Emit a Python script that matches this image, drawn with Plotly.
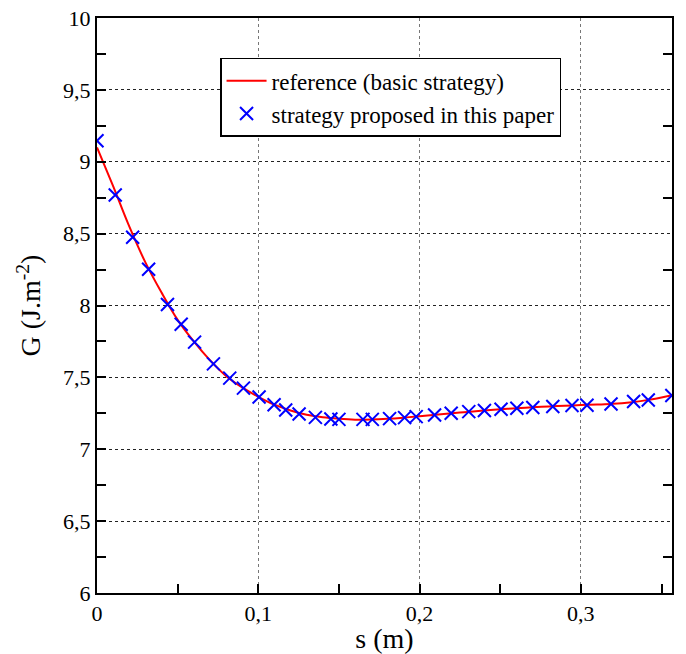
import plotly.graph_objects as go

# reference curve (basic strategy)
ref_s = [0, 0.01, 0.02, 0.03, 0.04, 0.05, 0.06, 0.07, 0.08, 0.09, 0.10, 0.11, 0.12,
         0.13, 0.14, 0.15, 0.16, 0.17, 0.18, 0.19, 0.20, 0.21, 0.22, 0.23, 0.24, 0.25,
         0.26, 0.27, 0.28, 0.29, 0.30, 0.31, 0.32, 0.33, 0.34, 0.35, 0.3565]
ref_G = [9.10, 8.83, 8.55, 8.30, 8.09, 7.90, 7.75, 7.62, 7.51, 7.43, 7.365, 7.31, 7.27,
         7.24, 7.222, 7.212, 7.206, 7.207, 7.212, 7.22, 7.23, 7.24, 7.25, 7.26, 7.27, 7.278,
         7.285, 7.292, 7.298, 7.303, 7.307, 7.311, 7.316, 7.325, 7.34, 7.36, 7.375]

# strategy proposed in this paper
new_s = [0.0, 0.0113, 0.0221, 0.032, 0.0437, 0.0522, 0.0605, 0.0722, 0.0823, 0.0908,
         0.1005, 0.1098, 0.117, 0.1253, 0.1354, 0.145, 0.1500, 0.1649, 0.1707, 0.1814,
         0.1907, 0.1979, 0.2093, 0.2196, 0.2305, 0.2402, 0.2505, 0.2603, 0.2702, 0.2826,
         0.2945, 0.3038, 0.3187, 0.3327, 0.3418, 0.3564]
new_G = [9.146, 8.769, 8.475, 8.252, 8.007, 7.870, 7.745, 7.594, 7.495, 7.425,
         7.363, 7.309, 7.273, 7.245, 7.222, 7.21, 7.208, 7.208, 7.208, 7.213,
         7.220, 7.227, 7.238, 7.25, 7.262, 7.269, 7.278, 7.285, 7.290, 7.297,
         7.304, 7.306, 7.315, 7.332, 7.343, 7.374]

x_tickvals = [0, 0.1, 0.2, 0.3]
x_ticktext = ["0", "0,1", "0,2", "0,3"]
y_tickvals = [6, 6.5, 7, 7.5, 8, 8.5, 9, 9.5, 10]
y_ticktext = ["6", "6,5", "7", "7,5", "8", "8,5", "9", "9,5", "10"]

X_RANGE = [0, 0.3565]
Y_RANGE = [6, 10]

font = "Liberation Serif, Times New Roman, serif"

fig = go.Figure()
fig.add_trace(go.Scatter(x=ref_s, y=ref_G, mode="lines", line=dict(color="#ff0000", width=2, shape="spline"),
                         name="reference (basic strategy)"))
fig.add_trace(go.Scatter(x=new_s, y=new_G, mode="markers",
                         marker=dict(symbol="x-thin", size=13, color="#0000ff",
                                     line=dict(color="#0000ff", width=2)),
                         name="strategy proposed in this paper"))

axis_common = dict(showline=True, linecolor="black", linewidth=2, mirror=True,
                   ticks="inside", ticklen=0, showgrid=True,
                   griddash="dot", gridwidth=1, zeroline=False, automargin=False,
                   ticklabeloverflow="allow",
                   tickfont=dict(family=font, size=22, color="black"))

mirror_common = dict(showline=False, showgrid=False, zeroline=False, showticklabels=False,
                     ticks="", automargin=False)

fig.update_layout(
    width=686, height=654,
    margin=dict(l=97, r=14, t=18, b=61),
    plot_bgcolor="white", paper_bgcolor="white",
    font=dict(family=font, color="black"),
    xaxis=dict(range=X_RANGE, tickvals=x_tickvals, ticktext=x_ticktext, gridcolor="#777",
               minor=dict(dtick=0.05, tick0=0, ticks="inside", ticklen=9, tickcolor="black",
                          tickwidth=1.5, showgrid=False),
               title=dict(text="s (m)", font=dict(family=font, size=28), standoff=4),
               **axis_common),
    yaxis=dict(range=Y_RANGE, tickvals=y_tickvals, ticktext=y_ticktext, gridcolor="#222",
               minor=dict(dtick=0.25, tick0=6, ticks="inside", ticklen=9, tickcolor="black",
                          tickwidth=1.5, showgrid=False),
               title=dict(text="G (J.m<sup>-2</sup>)", font=dict(family=font, size=28), standoff=14),
               **axis_common),
    xaxis2=dict(overlaying="x", side="top", range=X_RANGE,
                minor=dict(dtick=0.05, tick0=0, ticks="inside", ticklen=9, tickcolor="black",
                           tickwidth=1.5, showgrid=False),
                **mirror_common),
    yaxis2=dict(overlaying="y", side="right", range=Y_RANGE,
                minor=dict(dtick=0.25, tick0=6, ticks="inside", ticklen=9, tickcolor="black",
                           tickwidth=1.5, showgrid=False),
                **mirror_common),
    legend=dict(x=0.214, y=0.931, xanchor="left", yanchor="top",
                bgcolor="white", bordercolor="black", borderwidth=1.5,
                itemwidth=40, tracegroupgap=0,
                font=dict(family=font, size=23, color="black")),
    showlegend=True,
)

# invisible trace to attach the mirrored tick axes
fig.add_trace(go.Scatter(x=[X_RANGE[0]], y=[Y_RANGE[0]], xaxis="x2", yaxis="y2",
                         mode="markers", marker=dict(opacity=0), showlegend=False,
                         hoverinfo="skip"))

fig.write_html("out.html", config={"displayModeBar": False},
               post_script="document.body.style.margin='0';")
